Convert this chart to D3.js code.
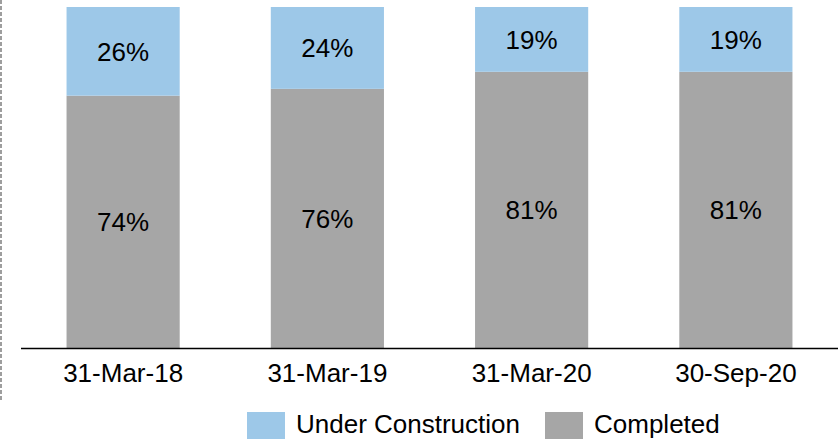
<!DOCTYPE html>
<html><head><meta charset="utf-8">
<script src="https://cdn.jsdelivr.net/npm/d3@7"></script>
<style>body{margin:0;background:#fff}svg{display:block}</style>
</head><body>
<svg id="chart" width="838" height="439"></svg>
<script>
const categories = ["31-Mar-18", "31-Mar-19", "31-Mar-20", "30-Sep-20"];
const completed = [74, 76, 81, 81];
const underConstruction = [26, 24, 19, 19];
const seriesNames = ["Under Construction", "Completed"];
const colors = { "Completed": "#A6A6A6", "Under Construction": "#9DC8E8" };

const svg = d3.select("#chart");
const font = "'Liberation Sans', Arial, sans-serif";

const x = d3.scaleBand().domain(categories).range([21, 838]).paddingInner(0.446).paddingOuter(0.223);
const y = d3.scaleLinear().domain([0, 100]).range([348, 7]);

// dashed left border
svg.append("line").attr("x1", 1).attr("x2", 1).attr("y1", 0).attr("y2", 400)
  .attr("stroke", "#7f7f7f").attr("stroke-width", 1.5).attr("stroke-dasharray", "4,2");

const data = categories.map((c, i) => ({ cat: c, Completed: completed[i], "Under Construction": underConstruction[i] }));
const stack = d3.stack().keys(["Completed", "Under Construction"]);
const layers = stack(data);

layers.forEach(layer => {
  const g = svg.append("g");
  g.selectAll("rect").data(layer).join("rect")
    .attr("x", d => x(d.data.cat))
    .attr("width", x.bandwidth())
    .attr("y", d => y(d[1]))
    .attr("height", d => y(d[0]) - y(d[1]))
    .attr("fill", colors[layer.key]);
  g.selectAll("text").data(layer).join("text")
    .attr("x", d => x(d.data.cat) + x.bandwidth() / 2)
    .attr("y", d => (y(d[0]) + y(d[1])) / 2)
    .attr("dy", "0.36em")
    .attr("text-anchor", "middle")
    .attr("font-family", font).attr("font-size", 26).attr("fill", "#000")
    .text(d => (d[1] - d[0]) + "%");
});

// axis
const axis = svg.append("g").attr("transform", "translate(0,348.5)")
  .call(d3.axisBottom(x).tickSize(0).tickPadding(15));
axis.select(".domain").attr("stroke", "#000").attr("stroke-width", 1.5).attr("d", "M21,0H838");
axis.selectAll("text").attr("font-family", font).attr("font-size", 26).attr("fill", "#000");

// legend
const legendX = [247, 545];
seriesNames.forEach((s, i) => {
  svg.append("rect").attr("x", legendX[i]).attr("y", 412).attr("width", 38).attr("height", 27).attr("fill", colors[s]);
  svg.append("text").attr("x", legendX[i] + 49).attr("y", 433)
    .attr("font-family", font).attr("font-size", 26).attr("fill", "#000").text(s);
});
</script>
</body></html>
